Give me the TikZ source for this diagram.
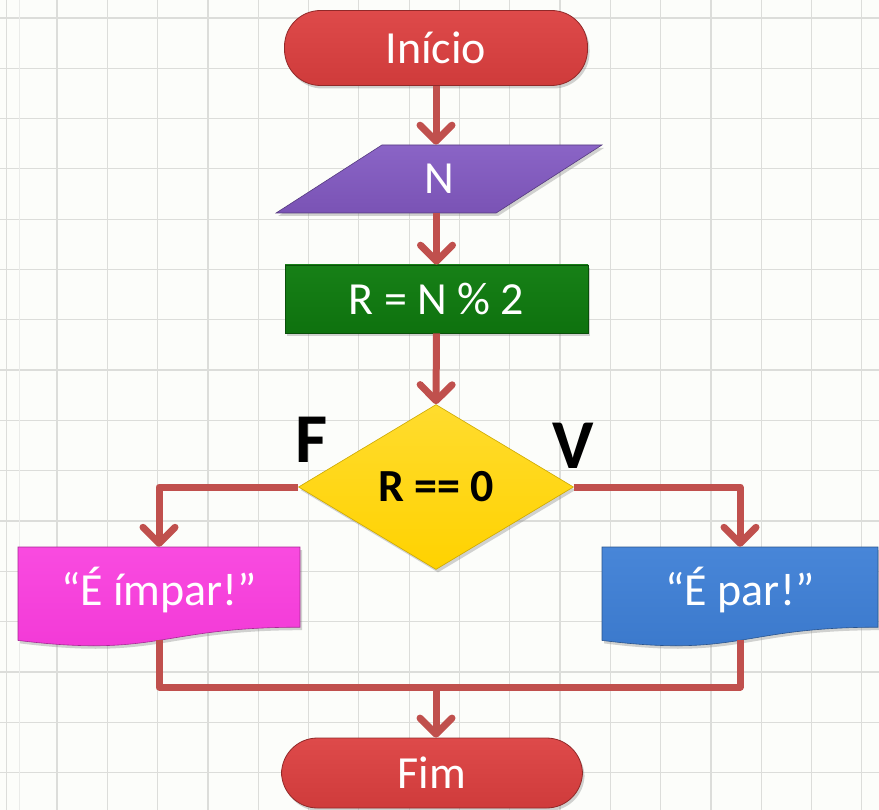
\documentclass[tikz,border=0pt]{standalone}
\usepackage{fontspec}
\setmainfont{Carlito}
\usetikzlibrary{arrows.meta,shapes.geometric,shadows,calc}

\definecolor{bgpaper}{HTML}{FCFDFA}
\definecolor{gridline}{HTML}{DCDDDA}
\definecolor{flowline}{HTML}{C0504D}
\definecolor{termred}{HTML}{CF3B3B}
\definecolor{termredlt}{HTML}{DE4A4A}
\definecolor{iopurple}{HTML}{7A53B5}
\definecolor{iopurplelt}{HTML}{8A64C6}
\definecolor{procgreen}{HTML}{0E720E}
\definecolor{procgreenlt}{HTML}{178017}
\definecolor{decyellow}{HTML}{FFD200}
\definecolor{decyellowlt}{HTML}{FFDC2E}
\definecolor{outmagenta}{HTML}{F238D6}
\definecolor{outmagentalt}{HTML}{F94BE0}
\definecolor{outblue}{HTML}{3A78CB}
\definecolor{outbluelt}{HTML}{4886D8}

\tikzset{
  x=1pt, y=-1pt,
  bigtext/.style={font=\fontsize{46}{50}\selectfont},
  flowtext/.style={bigtext, text=white},
  shapebase/.style={drop shadow={shadow xshift=2pt, shadow yshift=-3pt, opacity=0.35}},
  terminal/.style={shapebase, rectangle, rounded corners=36pt, draw=#1!70!black, line width=0.8pt,
    top color=#1lt, bottom color=#1, inner sep=0pt, flowtext},
  iobox/.style={shapebase, trapezium, trapezium left angle=47, trapezium right angle=133,
    trapezium stretches=true, draw=iopurple!70!black, line width=0.6pt,
    top color=iopurplelt, bottom color=iopurple, inner sep=0pt, flowtext,
    minimum width=326pt, minimum height=68pt},
  procbox/.style={shapebase, rectangle, draw=procgreen!70!black, line width=0.6pt,
    top color=procgreenlt, bottom color=procgreen, inner sep=0pt, flowtext,
    minimum width=303pt, minimum height=68pt},
  decbox/.style={shapebase, diamond, draw=decyellow!80!black, line width=0.6pt,
    top color=decyellowlt, bottom color=decyellow, inner sep=0pt, font=\fontsize{46}{50}\selectfont\bfseries,
    minimum width=275pt, minimum height=165pt},
  doctext/.style={rectangle, inner sep=0pt, flowtext},
  branchlabel/.style={font=\fontsize{70}{72}\selectfont\bfseries, text=black, inner sep=0pt},
  flow/.style={draw=flowline, line width=7pt, line join=round},
  flowarrow/.style={flow, -{Straight Barb[length=16pt, width=32pt, round]}},
}

% document (wavy bottom) shape: #1 left, #2 top, #3 width, #4 height, #5 colour
\newcommand{\docshape}[5]{%
  \path[shapebase, top color=#5lt, bottom color=#5, draw=#5!70!black, line width=0.6pt]
    (#1,#2) -- ++(#3,0) -- ++(0,0.802*#4)
    .. controls ($(#1,#2)+(0.5*#3,0.802*#4)$) and ($(#1,#2)+(0.5*#3,1.108*#4)$) .. ($(#1,#2)+(0,0.934*#4)$)
    -- cycle;%
}

\begin{document}
\begin{tikzpicture}
  % paper and grid
  \fill[bgpaper] (0,0) rectangle (879,810);
  \useasboundingbox (0,0) rectangle (879,810);
  \foreach \gx in {0,...,17} {
    \draw[gridline, line width=1.2pt] ({6.7+50.3*\gx},0) -- ({6.7+50.3*\gx},810);
  }
  \foreach \gy in {0,...,15} {
    \draw[gridline, line width=1.2pt] (0,{18+50.3*\gy}) -- (879,{18+50.3*\gy});
  }
  \draw[gridline!60, line width=0.8pt] (19,0) -- (19,810);

  % flowchart shapes
  \node[terminal=termred, minimum width=303pt, minimum height=75pt] (start) at (436,48) {Início};
  \node[iobox] (input) at (439,179) {N};
  \node[procbox] (calc) at (436.5,299) {R = N \% 2};
  \node[decbox] (test) at (436,487) {R == 0};

  \docshape{18}{547}{282}{100}{outmagenta}
  \node[doctext, minimum width=282pt, minimum height=93pt] (odd) at (159,593.5) {};
  \node[flowtext] at (159,590) {“É ímpar!”};

  \docshape{602}{547}{276}{100}{outblue}
  \node[doctext, minimum width=276pt, minimum height=93pt] (even) at (740,593.5) {};
  \node[flowtext] at (740,590) {“É par!”};

  \node[terminal=termred, minimum width=301pt, minimum height=70pt] (stop) at (432,773) {Fim};

  % branch labels
  \node[branchlabel] (lblF) at (312,440) {F};
  \node[branchlabel] (lblV) at (573,446) {V};

  % connectors
  \draw[flowarrow] (start.south) -- (start.south |- input.north);
  \draw[flowarrow] (input.south -| calc.north) -- (calc.north);
  \draw[flowarrow] (calc.south) -- (test.north);
  \draw[flowarrow] (test.west) -| (odd.north);
  \draw[flowarrow] (test.east) -| (even.north);
  \coordinate (merge) at (436,687);
  \draw[flow] (odd.south) |- (merge) -| (even.south);
  \draw[flowarrow] (merge) -- (merge |- stop.north);
\end{tikzpicture}
\end{document}
